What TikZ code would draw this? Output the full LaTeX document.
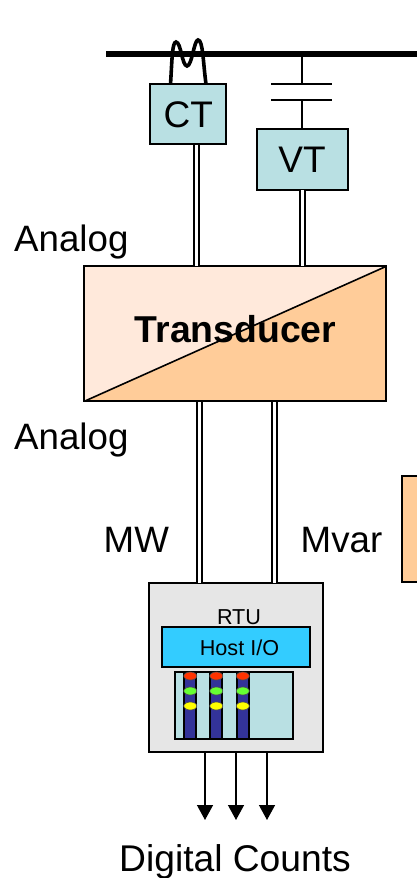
\documentclass[tikz,border=0pt]{standalone}
\usepackage{fontspec}
\setmainfont{Liberation Sans}
\usetikzlibrary{arrows.meta}
\usetikzlibrary{shapes.geometric}
\definecolor{teal box}{HTML}{B9E0E3}
\definecolor{peach}{HTML}{FFCC99}
\definecolor{pale peach}{HTML}{FFE9DB}
\definecolor{host blue}{HTML}{33CCFF}
\definecolor{rtu grey}{HTML}{E6E6E6}
\definecolor{navy}{HTML}{333399}
\definecolor{led red}{HTML}{FF3300}
\definecolor{led green}{HTML}{66FF33}
\definecolor{led yellow}{HTML}{FFFF00}
\tikzset{
 box/.style={draw=black,line width=2pt,inner sep=0pt,outer sep=0pt},
 label/.style={font=\fontsize{36.7}{40}\selectfont,inner sep=0pt,anchor=base west},
 small/.style={font=\fontsize{21.6}{24}\selectfont,inner sep=0pt},
 wire/.style={double=white,double distance=3pt,line width=2pt},
 thin wire/.style={line width=1.4pt},
 led/.style={ellipse,draw=black!70,line width=0.6pt,minimum width=13pt,minimum height=8pt,inner sep=0pt,outer sep=0pt},
 rack/.style={box,fill=navy,minimum width=12pt,minimum height=67pt},
 signal/.style={line width=1.4pt,-{Triangle[length=15pt,width=16pt]}}
}
\begin{document}
\begin{tikzpicture}[x=1pt,y=-1pt]
 \clip (0,0) rectangle (417,878);
 \coordinate (busleft) at (106,54);
 \coordinate (busright) at (417,54);
 \coordinate (capA) at (302,54);
 \coordinate (coilA) at (170.5,84);
 \coordinate (coilB) at (206,84);
 \node[box,fill=teal box,minimum width=76pt,minimum height=60pt,font=\fontsize{37}{40}\selectfont] (ct) at (188.3,114.3) {CT};
 \node[box,fill=teal box,minimum width=91pt,minimum height=61pt,font=\fontsize{37}{40}\selectfont] (vt) at (302,159.8) {VT};
 \node[box,fill=pale peach,minimum width=302pt,minimum height=135pt] (trans) at (235.3,333.8) {};
 \fill[peach] (trans.south west) -- (trans.north east) -- (trans.south east) -- cycle;
 \draw[line width=1.6pt] (trans.south west) -- (trans.north east);
 \draw[line width=2pt] (trans.south west) rectangle (trans.north east);
 \node[font=\bfseries\fontsize{37.4}{40}\selectfont,inner sep=0pt] (transtext) at (235.5,329) {Transducer};
 \node[box,fill=peach,minimum width=40pt,minimum height=106pt] (extra) at (421.8,529.3) {};
 \node[box,fill=rtu grey,minimum width=174pt,minimum height=169pt] (rtu) at (236.3,667.8) {};
 \node[small,anchor=base] (rtutext) at (239,624) {RTU};
 \node[box,fill=host blue,minimum width=148pt,minimum height=40pt] (host) at (236.3,647.3) {};
 \node[small] (hosttext) at (239.5,648) {Host I/O};
 \node[box,fill=teal box,minimum width=118pt,minimum height=67pt] (panel) at (234.3,705.8) {};
 \node[rack] (rackA) at (190.3,705.8) {};
 \node[rack] (rackB) at (216.3,705.8) {};
 \node[rack] (rackC) at (242.8,705.8) {};
 \node[led,fill=led red] (redA) at (190.3,676) {};
 \node[led,fill=led green] (greenA) at (190.3,691) {};
 \node[led,fill=led yellow] (yellowA) at (190.3,706) {};
 \node[led,fill=led red] (redB) at (216.3,676) {};
 \node[led,fill=led green] (greenB) at (216.3,691) {};
 \node[led,fill=led yellow] (yellowB) at (216.3,706) {};
 \node[led,fill=led red] (redC) at (242.8,676) {};
 \node[led,fill=led green] (greenC) at (242.8,691) {};
 \node[led,fill=led yellow] (yellowC) at (242.8,706) {};
 \draw[line width=6pt] (busleft) -- (busright);
 \draw[line width=3.6pt] (coilA) .. controls (172,62) and (172,42) .. (176,42) .. controls (181,42) and (182,66) .. (187,66) .. controls (192,66) and (194,40) .. (198,40) .. controls (203,40) and (203,62) .. (coilB);
 \coordinate (capB) at (302,84);
 \coordinate (capC) at (302,100);
 \coordinate (capBl) at (271,84);
 \coordinate (capBr) at (332,84);
 \coordinate (capCl) at (271,100);
 \coordinate (capCr) at (332,100);
 \draw[thin wire] (capA) -- (capB);
 \draw[thin wire] (capBl) -- (capBr);
 \draw[thin wire] (capCl) -- (capCr);
 \draw[thin wire] (capC) -- (vt.north);
 \draw[wire] (196,145) -- (196,266);
 \draw[wire] (vt.south) -- (vt.south |- trans.north);
 \draw[wire] (199.5,402) -- (199.5,583);
 \draw[wire] (274.5,402) -- (274.5,583);
 \draw[signal] (205,753) -- (205,820);
 \draw[signal] (236,753) -- (236,820);
 \draw[signal] (267,753) -- (267,820);
 \node[label] (analogA) at (14,251) {Analog};
 \node[label] (analogB) at (14,449) {Analog};
 \node[label] (mw) at (103.5,552) {MW};
 \node[label] (mvar) at (300.5,552) {Mvar};
 \node[label,font=\fontsize{37.2}{40}\selectfont] (counts) at (119,871) {Digital Counts};
\end{tikzpicture}
\end{document}
